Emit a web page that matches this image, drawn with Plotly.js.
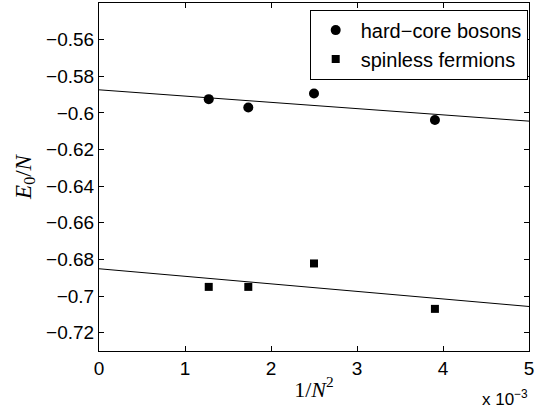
<!DOCTYPE html>
<html>
<head>
<meta charset="utf-8">
<script src="https://cdn.plot.ly/plotly-3.0.1.min.js"></script>
<style>html,body{margin:0;padding:0;background:#fff;}#chart{width:550px;height:409px;}</style>
</head>
<body>
<div id="chart"></div>
<script>
// x values are 1/N^2 in units of 1e-3
var xPoints = [1.276, 1.736, 2.5, 3.906];
var bosonE = [-0.5925, -0.5971, -0.5894, -0.6039];
var fermionE = [-0.695, -0.695, -0.6822, -0.707];
var fitX = [0, 5];
var bosonFit = [-0.5874, -0.6045];
var fermionFit = [-0.6851, -0.7057];
var xTickVals = [0, 1, 2, 3, 4, 5];
var xTickText = ['0', '1', '2', '3', '4', '5'];
var yTickVals = [-0.72, -0.70, -0.68, -0.66, -0.64, -0.62, -0.60, -0.58, -0.56];
var yTickText = ['\u22120.72', '\u22120.7', '\u22120.68', '\u22120.66', '\u22120.64', '\u22120.62', '\u22120.6', '\u22120.58', '\u22120.56'];

var traces = [
  {x: fitX, y: bosonFit, mode: 'lines', line: {color: '#000', width: 1}, showlegend: false, hoverinfo: 'skip'},
  {x: fitX, y: fermionFit, mode: 'lines', line: {color: '#000', width: 1}, showlegend: false, hoverinfo: 'skip'},
  {x: xPoints, y: bosonE, mode: 'markers', name: 'hard\u2212core bosons',
   marker: {symbol: 'circle', size: 10, color: '#000'}},
  {x: xPoints, y: fermionE, mode: 'markers', name: 'spinless fermions',
   marker: {symbol: 'square', size: 8, color: '#000'}}
];

var axisFont = {family: 'Liberation Sans, Arial, sans-serif', size: 19, color: '#000'};
var layout = {
  width: 550, height: 409,
  margin: {l: 99, r: 21, t: 3, b: 58},
  paper_bgcolor: '#fff', plot_bgcolor: '#fff',
  showlegend: true,
  legend: {x: 0.997, xanchor: 'right', y: 0.981, yanchor: 'top',
    bgcolor: '#fff', bordercolor: '#000', borderwidth: 1,
    font: {family: 'Liberation Sans, Arial, sans-serif', size: 20, color: '#000'},
    tracegroupgap: 0, itemwidth: 40},
  xaxis: {range: [0, 5], tickvals: xTickVals, ticktext: xTickText,
    ticks: 'inside', ticklen: 5, tickcolor: '#000', showline: true, linecolor: '#000', linewidth: 1,
    mirror: 'ticks', showgrid: false, zeroline: false, tickfont: axisFont,
    title: {text: '1/<i>N</i><sup>2</sup>', font: {family: 'Liberation Serif, DejaVu Serif, serif', size: 22, color: '#000'}, standoff: 3}},
  yaxis: {range: [-0.73, -0.54], tickvals: yTickVals, ticktext: yTickText,
    ticks: 'inside', ticklen: 5, tickcolor: '#000', showline: true, linecolor: '#000', linewidth: 1,
    mirror: 'ticks', showgrid: false, zeroline: false, tickfont: axisFont,
    title: {text: '<i>E</i><sub>0</sub>/<i>N</i>', font: {family: 'Liberation Serif, DejaVu Serif, serif', size: 23, color: '#000'}, standoff: 8}},
  annotations: [{xref: 'paper', yref: 'paper', x: 1.003, y: -0.135, xanchor: 'right', yanchor: 'middle',
    showarrow: false, text: 'x 10<sup>\u22123</sup>',
    font: {family: 'Liberation Sans, Arial, sans-serif', size: 17, color: '#000'}}]
};
Plotly.newPlot('chart', traces, layout, {displayModeBar: false, staticPlot: true});
</script>
</body>
</html>
